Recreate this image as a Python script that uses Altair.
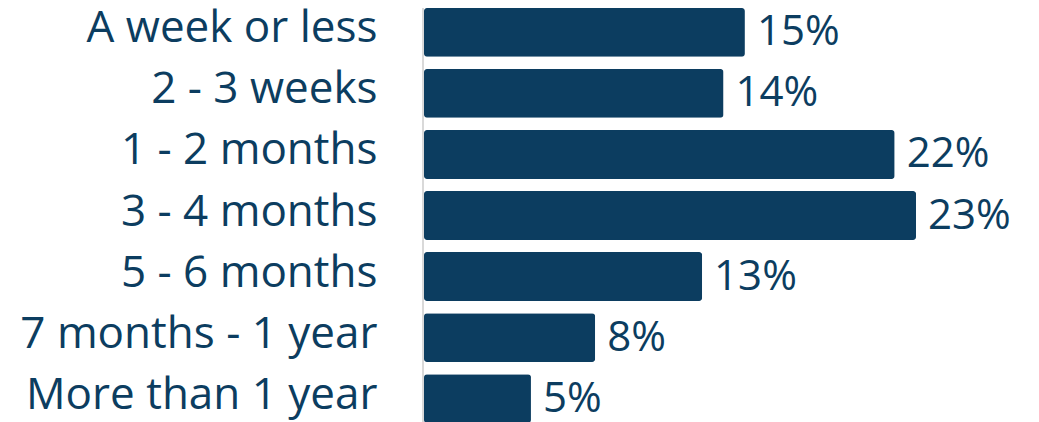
import altair as alt
import pandas as pd

categories = ["A week or less", "2 - 3 weeks", "1 - 2 months", "3 - 4 months",
              "5 - 6 months", "7 months - 1 year", "More than 1 year"]
values = [15, 14, 22, 23, 13, 8, 5]

df = pd.DataFrame({"cat": categories, "val": values,
                   "label": [f"{v}%" for v in values]})

NAVY = "#0c3d60"
FONT = "Open Sans"

y_enc = alt.Y("cat:N", sort=categories,
              scale=alt.Scale(paddingInner=0.2, paddingOuter=0),
              axis=alt.Axis(title=None, ticks=False, domain=False,
                            labelFont=FONT, labelFontSize=44, labelColor=NAVY,
                            labelPadding=47, labelOffset=-3, labelLimit=0))
x_enc = alt.X("val:Q", scale=alt.Scale(domain=[0, 28]), axis=None)

bars = alt.Chart(df).mark_bar(color=NAVY, cornerRadius=3).encode(x=x_enc, y=y_enc)
labels = alt.Chart(df).mark_text(align="left", baseline="middle", dx=12,
                                 font=FONT, fontSize=42, color=NAVY).encode(
    x=x_enc, y=y_enc, text="label:N")
axis_line = alt.Chart(df).mark_rule(color="#d9d9d9", strokeWidth=2).encode(
    x=alt.value(-1), y=alt.value(0), y2=alt.value(415))

chart = (axis_line + bars + labels).properties(
    width=599, height=415,
    autosize=alt.AutoSizeParams(type="none"),
    padding={"left": 416, "top": 0, "right": 0, "bottom": 0}
).configure_view(stroke=None)

chart.save("out.html", embed_options={"renderer": "svg", "actions": False})
